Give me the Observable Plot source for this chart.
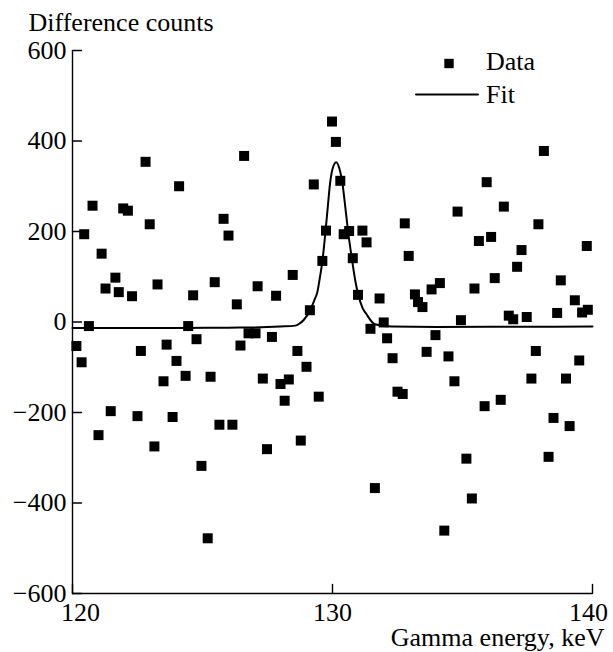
<!DOCTYPE html>
<html><head><meta charset="utf-8">
<script src="https://cdn.jsdelivr.net/npm/d3@7"></script>
<script src="https://cdn.jsdelivr.net/npm/@observablehq/plot@0.6"></script>
<style>body{margin:0;background:#fff} svg text{font-family:"Liberation Serif","Times New Roman",serif !important;}</style>
</head><body><div id="chart"></div>
<script>
const energy = [120.15,120.35,120.45,120.63,120.77,121.00,121.12,121.27,121.47,121.65,121.78,121.95,122.13,122.29,122.50,122.63,122.81,122.97,123.15,123.27,123.50,123.62,123.85,124.00,124.10,124.35,124.45,124.64,124.77,124.96,125.20,125.31,125.47,125.65,125.81,126.00,126.15,126.32,126.46,126.60,126.77,127.04,127.12,127.32,127.48,127.67,127.83,128.00,128.16,128.32,128.47,128.65,128.78,129.00,129.13,129.28,129.47,129.61,129.75,129.98,130.13,130.30,130.43,130.64,130.78,130.98,131.15,131.31,131.46,131.63,131.81,131.97,132.10,132.31,132.50,132.70,132.78,132.93,133.17,133.29,133.46,133.62,133.81,133.96,134.13,134.30,134.46,134.69,134.81,134.94,135.15,135.36,135.46,135.63,135.85,135.93,136.10,136.24,136.47,136.59,136.78,136.95,137.10,137.27,137.47,137.65,137.82,137.92,138.13,138.31,138.50,138.64,138.78,138.98,139.12,139.32,139.49,139.60,139.78,139.82];
const counts = [-53,-89,194,-9,257,-250,151,74,-197,98,66,251,246,57,-208,-64,354,216,-275,83,-131,-50,-210,-86,300,-119,-9,59,-38,-318,-478,-121,88,-227,228,191,-227,39,-52,367,-25,-25,79,-125,-281,-33,58,-137,-174,-127,104,-64,-262,-99,26,304,-165,135,202,443,398,312,194,201,141,60,202,176,-15,-367,52,-1,-36,-80,-154,-159,218,146,61,44,33,-66,72,-29,86,-461,-76,-131,244,4,-302,-390,74,179,-186,309,188,97,-172,255,14,6,122,159,11,-125,-64,216,378,-298,-212,20,92,-125,-230,48,-85,21,168,27];

const fitEnergy = [120,122,124,126,127,128,128.57,128.74,128.9,129.13,129.3,129.42,129.52,129.61,129.73,129.82,129.9,130.0,130.14,130.27,130.39,130.5,130.6,130.76,130.88,130.99,131.15,131.31,131.63,132.27,134,137,140];
const fitCounts = [-13,-13,-13,-12.5,-12,-10,-8,-3,5,25,48,67,100,134,200,255,303,338,353,338,303,250,200,134,90,60,32,17,-5,-10,-11,-10.5,-10];

const xTicks = [120,130,140];
const yTicks = [-600,-400,-200,0,200,400,600];
const xLabel = "Gamma energy, keV";
const yLabel = "Difference counts";
const legendLabels = ["Data","Fit"];

const points = energy.map((e,i)=>({e, c: counts[i]}));
const fit = fitEnergy.map((e,i)=>({e, c: fitCounts[i]}));

const tickShape = {draw(context, l){ context.moveTo(0,0); context.lineTo(0,-l); }};
const font = "Liberation Serif";
const fs = 26;
const txt = {fontSize: fs, fontFamily: font, fill: "black"};

const chart = Plot.plot({
  width: 613,
  height: 652,
  marginLeft: 72,
  marginRight: 21,
  marginTop: 50,
  marginBottom: 59,
  style: {fontFamily: font, fontSize: fs + "px", background: "white", color: "black"},
  x: {domain: [xTicks[0], xTicks[xTicks.length-1]], axis: null},
  y: {domain: [yTicks[0], yTicks[yTicks.length-1]], axis: null},
  marks: [
    Plot.ruleX([xTicks[0]], {stroke: "black", strokeWidth: 1.4}),
    Plot.ruleY([yTicks[0]], {stroke: "black", strokeWidth: 1.4}),
    Plot.vector(yTicks, {y: d=>d, frameAnchor: "left", rotate: 90, length: 9, anchor: "start", shape: tickShape, stroke: "black", strokeWidth: 1.4}),
    Plot.vector(xTicks, {x: d=>d, frameAnchor: "bottom", rotate: 0, length: 9, anchor: "start", shape: tickShape, stroke: "black", strokeWidth: 1.4}),
    Plot.text(yTicks, {y: d=>d, frameAnchor: "left", text: d=>d3.format("")(d), textAnchor: "end", lineAnchor: "middle", dx: -6, ...txt}),
    Plot.text([xTicks[0]], {x: d=>d, frameAnchor: "bottom", text: d=>String(d), textAnchor: "middle", lineAnchor: "top", dy: 9, dx: 8, ...txt}),
    Plot.text([xTicks[1]], {x: d=>d, frameAnchor: "bottom", text: d=>String(d), textAnchor: "middle", lineAnchor: "top", dy: 9, ...txt}),
    Plot.text([xTicks[2]], {x: d=>d, frameAnchor: "bottom", text: d=>String(d), textAnchor: "middle", lineAnchor: "top", dy: 9, dx: -4, ...txt}),
    Plot.text([yLabel], {frameAnchor: "top-left", text: d=>d, textAnchor: "start", lineAnchor: "middle", dx: -44, dy: -27.5, ...txt}),
    Plot.text([xLabel], {frameAnchor: "bottom-right", text: d=>d, textAnchor: "end", lineAnchor: "middle", dx: 12, dy: 44, ...txt}),
    Plot.line(fit, {x: "e", y: "c", curve: "monotone-x", stroke: "black", strokeWidth: 2}),
    Plot.dot(points, {x: "e", y: "c", symbol: "square", r: 5.64, fill: "black", stroke: "none"}),
    Plot.dot([legendLabels[0]], {frameAnchor: "top-right", dx: -143.5, dy: 13, symbol: "square", r: 5.3, fill: "black", stroke: "none"}),
    Plot.text([legendLabels[0]], {frameAnchor: "top-right", text: d=>d, textAnchor: "start", lineAnchor: "middle", dx: -106.5, dy: 11, ...txt}),
    Plot.vector([legendLabels[1]], {frameAnchor: "top-right", dx: -176.5, dy: 44, rotate: 90, length: 62, anchor: "start", shape: tickShape, stroke: "black", strokeWidth: 2}),
    Plot.text([legendLabels[1]], {frameAnchor: "top-right", text: d=>d, textAnchor: "start", lineAnchor: "middle", dx: -106.5, dy: 44.5, ...txt})
  ]
});
document.getElementById("chart").appendChild(chart);
</script>
</body></html>
